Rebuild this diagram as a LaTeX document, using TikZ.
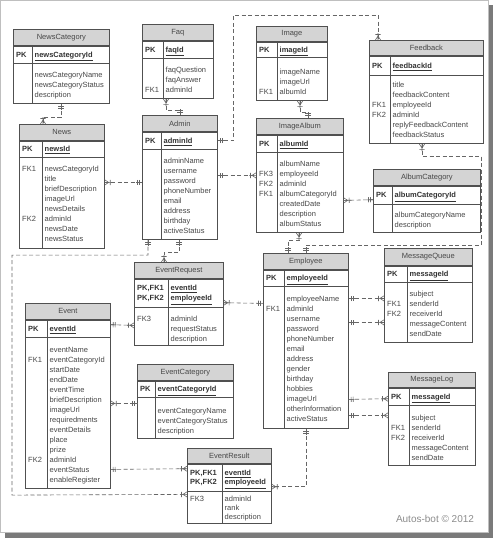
\documentclass[tikz,border=0pt]{standalone}
\usepackage{fontspec}
\setmainfont{Liberation Sans}
\usetikzlibrary{arrows.meta}
\definecolor{ergray}{HTML}{D4D4D4}
\definecolor{erline}{HTML}{505050}
\definecolor{ertext}{HTML}{474747}
\definecolor{relgray}{HTML}{666666}
\definecolor{shadowgray}{HTML}{7A7A7A}

% label column + field column of one table row block
\newcommand{\erows}[2]{\begin{tabular}[t]{@{}p{#1}@{}l@{}}#2\end{tabular}}

% crow's foot ends
\pgfdeclarearrow{
  name = erOne,
  setup code = {
    \pgfarrowssettipend{0pt}
    \pgfarrowssetlineend{0pt}
    \pgfarrowssetbackend{-6pt}
  },
  drawing code = {
    \pgfsetdash{}{0pt}
    \pgfpathmoveto{\pgfqpoint{0pt}{0pt}}
    \pgfpathlineto{\pgfqpoint{-6pt}{0pt}}
    \pgfpathmoveto{\pgfqpoint{-2.5pt}{2.6pt}}
    \pgfpathlineto{\pgfqpoint{-2.5pt}{-2.6pt}}
    \pgfpathmoveto{\pgfqpoint{-4.5pt}{2.6pt}}
    \pgfpathlineto{\pgfqpoint{-4.5pt}{-2.6pt}}
    \pgfusepathqstroke
  }
}
\pgfdeclarearrow{
  name = erMany,
  setup code = {
    \pgfarrowssettipend{0pt}
    \pgfarrowssetlineend{0pt}
    \pgfarrowssetbackend{-7pt}
  },
  drawing code = {
    \pgfsetdash{}{0pt}
    \pgfpathmoveto{\pgfqpoint{0pt}{0pt}}
    \pgfpathlineto{\pgfqpoint{-7pt}{0pt}}
    \pgfpathmoveto{\pgfqpoint{0pt}{2.6pt}}
    \pgfpathlineto{\pgfqpoint{-4pt}{0pt}}
    \pgfpathlineto{\pgfqpoint{0pt}{-2.6pt}}
    \pgfpathmoveto{\pgfqpoint{-5.5pt}{2.6pt}}
    \pgfpathlineto{\pgfqpoint{-5.5pt}{-2.6pt}}
    \pgfusepathqstroke
  }
}

\tikzset{
  etitle/.style={draw=erline, line width=0.7pt, fill=ergray, inner sep=0pt, anchor=north west, text=ertext, font=\fontsize{7.5}{10}\selectfont},
  ecell/.style={draw=erline, line width=0.7pt, fill=white, inner sep=0pt, anchor=north west},
  ediv/.style={draw=erline, line width=0.7pt},
  etext/.style={inner sep=0pt, anchor=north west, text=ertext, font=\fontsize{7.5}{10}\selectfont},
  etight/.style={etext, font=\fontsize{7.5}{9}\selectfont},
  ekey/.style={etext, text=black!80, font=\fontsize{7.5}{10}\selectfont\bfseries},
  ekeytight/.style={ekey, font=\fontsize{7.5}{9}\selectfont\bfseries},
  rel/.style={draw=relgray, line width=0.6pt, dash pattern=on 4pt off 2.5pt},
  credit/.style={inner sep=0pt, text=black!45, font=\fontsize{10}{12}\selectfont}
}

\begin{document}
\begin{tikzpicture}[x=1pt, y=-1pt]
\useasboundingbox (0,0) rectangle (493,538);
\fill[shadowgray] (5,5) rectangle (493,538);
\filldraw[fill=white, draw=black!25, line width=0.8pt] (0.5,0.5) rectangle (488,532);

% NewsCategory
\node[etitle, minimum width=96pt, minimum height=16pt] (newscat) at (13,29) {NewsCategory};
\node[ecell, minimum width=96pt, minimum height=17pt] (newscatK) at (newscat.south west) {};
\node[ecell, minimum width=96pt, minimum height=40pt] (newscatB) at (newscatK.south west) {};
\draw[ediv] ([xshift=19pt]newscatK.north west) -- ([xshift=19pt]newscatB.south west);
\node[ekey] (newscatId) at ([xshift=3pt,yshift=4.3pt]newscatK.west) {\erows{18.5pt}{PK & \underline{newsCategoryId}}};
\node[etext] (newscatF) at ([xshift=3pt,yshift=-6.5pt]newscatB.north west) {\erows{18.5pt}{& newsCategoryName\\ & newsCategoryStatus\\ & description}};

% Faq
\node[etitle, minimum width=71pt, minimum height=16pt] (faq) at (142,24) {Faq};
\node[ecell, minimum width=71pt, minimum height=17pt] (faqK) at (faq.south west) {};
\node[ecell, minimum width=71pt, minimum height=40pt] (faqB) at (faqK.south west) {};
\draw[ediv] ([xshift=21pt]faqK.north west) -- ([xshift=21pt]faqB.south west);
\node[ekey] (faqId) at ([xshift=3pt,yshift=4.3pt]faqK.west) {\erows{20.5pt}{PK & \underline{faqId}}};
\node[etext] (faqF) at ([xshift=3pt,yshift=-6.5pt]faqB.north west) {\erows{20.5pt}{& faqQuestion\\ & faqAnswer\\ FK1 & adminId}};

% Admin
\node[etitle, minimum width=75pt, minimum height=16pt] (admin) at (142,115) {Admin};
\node[ecell, minimum width=75pt, minimum height=17pt] (adminK) at (admin.south west) {};
\node[ecell, minimum width=75pt, minimum height=90pt] (adminB) at (adminK.south west) {};
\draw[ediv] ([xshift=19pt]adminK.north west) -- ([xshift=19pt]adminB.south west);
\node[ekey] (adminId) at ([xshift=3pt,yshift=4.3pt]adminK.west) {\erows{18.5pt}{PK & \underline{adminId}}};
\node[etext] (adminF) at ([xshift=3pt,yshift=-6.5pt]adminB.north west) {\erows{18.5pt}{& adminName\\ & username\\ & password\\ & phoneNumber\\ & email\\ & address\\ & birthday\\ & activeStatus}};

% News
\node[etitle, minimum width=85pt, minimum height=16pt] (news) at (19,124) {News};
\node[ecell, minimum width=85pt, minimum height=16pt] (newsK) at (news.south west) {};
\node[ecell, minimum width=85pt, minimum height=91pt] (newsB) at (newsK.south west) {};
\draw[ediv] ([xshift=23pt]newsK.north west) -- ([xshift=23pt]newsB.south west);
\node[ekey] (newsId) at ([xshift=3pt,yshift=4.3pt]newsK.west) {\erows{22.5pt}{PK & \underline{newsId}}};
\node[etext] (newsF) at ([xshift=3pt,yshift=-6.5pt]newsB.north west) {\erows{22.5pt}{FK1 & newsCategoryId\\ & title\\ & briefDescription\\ & imageUrl\\ & newsDetails\\ FK2 & adminId\\ & newsDate\\ & newsStatus}};

% Image
\node[etitle, minimum width=71pt, minimum height=15pt] (image) at (256,26) {Image};
\node[ecell, minimum width=71pt, minimum height=15pt] (imageK) at (image.south west) {};
\node[ecell, minimum width=71pt, minimum height=43pt] (imageB) at (imageK.south west) {};
\draw[ediv] ([xshift=21pt]imageK.north west) -- ([xshift=21pt]imageB.south west);
\node[ekey] (imageId) at ([xshift=3pt,yshift=4.3pt]imageK.west) {\erows{20.5pt}{PK & \underline{imageId}}};
\node[etext] (imageF) at ([xshift=3pt,yshift=-9.5pt]imageB.north west) {\erows{20.5pt}{& imageName\\ & imageUrl\\ FK1 & albumId}};

% Feedback
\node[etitle, minimum width=114pt, minimum height=15pt] (feedback) at (369,40) {Feedback};
\node[ecell, minimum width=114pt, minimum height=19pt] (feedbackK) at (feedback.south west) {};
\node[ecell, minimum width=114pt, minimum height=68pt] (feedbackB) at (feedbackK.south west) {};
\draw[ediv] ([xshift=21pt]feedbackK.north west) -- ([xshift=21pt]feedbackB.south west);
\node[ekey] (feedbackId) at ([xshift=3pt,yshift=4.3pt]feedbackK.west) {\erows{20.5pt}{PK & \underline{feedbackId}}};
\node[etext] (feedbackF) at ([xshift=3pt,yshift=-4.5pt]feedbackB.north west) {\erows{20.5pt}{& title\\ & feedbackContent\\ FK1 & employeeId\\ FK2 & adminId\\ & replyFeedbackContent\\ & feedbackStatus}};

% ImageAlbum
\node[etitle, minimum width=87pt, minimum height=16pt] (album) at (256,118) {ImageAlbum};
\node[ecell, minimum width=87pt, minimum height=17pt] (albumK) at (album.south west) {};
\node[ecell, minimum width=87pt, minimum height=80pt] (albumB) at (albumK.south west) {};
\draw[ediv] ([xshift=21pt]albumK.north west) -- ([xshift=21pt]albumB.south west);
\node[ekey] (albumId) at ([xshift=3pt,yshift=4.3pt]albumK.west) {\erows{20.5pt}{PK & \underline{albumId}}};
\node[etext] (albumF) at ([xshift=3pt,yshift=-6.5pt]albumB.north west) {\erows{20.5pt}{& albumName\\ FK3 & employeeId\\ FK2 & adminId\\ FK1 & albumCategoryId\\ & createdDate\\ & description\\ & albumStatus}};

% AlbumCategory
\node[etitle, minimum width=107pt, minimum height=16pt] (albumcat) at (373,169) {AlbumCategory};
\node[ecell, minimum width=107pt, minimum height=18pt] (albumcatK) at (albumcat.south west) {};
\node[ecell, minimum width=107pt, minimum height=28pt] (albumcatB) at (albumcatK.south west) {};
\draw[ediv] ([xshift=19pt]albumcatK.north west) -- ([xshift=19pt]albumcatB.south west);
\node[ekey] (albumcatId) at ([xshift=3pt,yshift=4.3pt]albumcatK.west) {\erows{18.5pt}{PK & \underline{albumCategoryId}}};
\node[etext] (albumcatF) at ([xshift=3pt,yshift=-5.5pt]albumcatB.north west) {\erows{18.5pt}{& albumCategoryName\\ & description}};

% EventRequest
\node[etitle, minimum width=89pt, minimum height=16pt] (evreq) at (134,262) {EventRequest};
\node[ecell, minimum width=89pt, minimum height=28pt] (evreqK) at (evreq.south west) {};
\node[ecell, minimum width=89pt, minimum height=38pt] (evreqB) at (evreqK.south west) {};
\draw[ediv] ([xshift=34pt]evreqK.north west) -- ([xshift=34pt]evreqB.south west);
\node[ekey] (evreqId) at ([xshift=3pt,yshift=9.3pt]evreqK.west) {\erows{33.5pt}{PK,FK1 & \underline{eventId}\\ PK,FK2 & \underline{employeeId}}};
\node[etext] (evreqF) at ([xshift=3pt,yshift=-6.5pt]evreqB.north west) {\erows{33.5pt}{FK3 & adminId\\ & requestStatus\\ & description}};

% Event
\node[etitle, minimum width=85pt, minimum height=16pt] (event) at (25,303) {Event};
\node[ecell, minimum width=85pt, minimum height=17pt] (eventK) at (event.south west) {};
\node[ecell, minimum width=85pt, minimum height=151pt] (eventB) at (eventK.south west) {};
\draw[ediv] ([xshift=22pt]eventK.north west) -- ([xshift=22pt]eventB.south west);
\node[ekey] (eventId) at ([xshift=3pt,yshift=4.3pt]eventK.west) {\erows{21.5pt}{PK & \underline{eventId}}};
\node[etext] (eventF) at ([xshift=3pt,yshift=-7.5pt]eventB.north west) {\erows{21.5pt}{& eventName\\ FK1 & eventCategoryId\\ & startDate\\ & endDate\\ & eventTime\\ & briefDescription\\ & imageUrl\\ & requiredments\\ & eventDetails\\ & place\\ & prize\\ FK2 & adminId\\ & eventStatus\\ & enableRegister}};

% EventCategory
\node[etitle, minimum width=96pt, minimum height=16pt] (evcat) at (137,364) {EventCategory};
\node[ecell, minimum width=96pt, minimum height=16pt] (evcatK) at (evcat.south west) {};
\node[ecell, minimum width=96pt, minimum height=41pt] (evcatB) at (evcatK.south west) {};
\draw[ediv] ([xshift=18pt]evcatK.north west) -- ([xshift=18pt]evcatB.south west);
\node[ekey] (evcatId) at ([xshift=3pt,yshift=4.3pt]evcatK.west) {\erows{17.5pt}{PK & \underline{eventCategoryId}}};
\node[etext] (evcatF) at ([xshift=3pt,yshift=-8.5pt]evcatB.north west) {\erows{17.5pt}{& eventCategoryName\\ & eventCategoryStatus\\ & description}};

% Employee
\node[etitle, minimum width=85pt, minimum height=16pt] (employee) at (263,253) {Employee};
\node[ecell, minimum width=85pt, minimum height=16pt] (employeeK) at (employee.south west) {};
\node[ecell, minimum width=85pt, minimum height=142pt] (employeeB) at (employeeK.south west) {};
\draw[ediv] ([xshift=21pt]employeeK.north west) -- ([xshift=21pt]employeeB.south west);
\node[ekey] (employeeId) at ([xshift=3pt,yshift=4.3pt]employeeK.west) {\erows{20.5pt}{PK & \underline{employeeId}}};
\node[etext] (employeeF) at ([xshift=3pt,yshift=-7.5pt]employeeB.north west) {\erows{20.5pt}{& employeeName\\ FK1 & adminId\\ & username\\ & password\\ & phoneNumber\\ & email\\ & address\\ & gender\\ & birthday\\ & hobbies\\ & imageUrl\\ & otherInformation\\ & activeStatus}};

% MessageQueue
\node[etitle, minimum width=88pt, minimum height=17pt] (msgq) at (384,248) {MessageQueue};
\node[ecell, minimum width=88pt, minimum height=16pt] (msgqK) at (msgq.south west) {};
\node[ecell, minimum width=88pt, minimum height=60pt] (msgqB) at (msgqK.south west) {};
\draw[ediv] ([xshift=23pt]msgqK.north west) -- ([xshift=23pt]msgqB.south west);
\node[ekey] (msgqId) at ([xshift=3pt,yshift=4.3pt]msgqK.west) {\erows{22.5pt}{PK & \underline{messageId}}};
\node[etext] (msgqF) at ([xshift=3pt,yshift=-6.5pt]msgqB.north west) {\erows{22.5pt}{& subject\\ FK1 & senderId\\ FK2 & receiverId\\ & messageContent\\ & sendDate}};

% MessageLog
\node[etitle, minimum width=87pt, minimum height=15pt] (msglog) at (388,372) {MessageLog};
\node[ecell, minimum width=87pt, minimum height=17pt] (msglogK) at (msglog.south west) {};
\node[ecell, minimum width=87pt, minimum height=60pt] (msglogB) at (msglogK.south west) {};
\draw[ediv] ([xshift=21pt]msglogK.north west) -- ([xshift=21pt]msglogB.south west);
\node[ekey] (msglogId) at ([xshift=3pt,yshift=4.3pt]msglogK.west) {\erows{20.5pt}{PK & \underline{messageId}}};
\node[etext] (msglogF) at ([xshift=3pt,yshift=-7.5pt]msglogB.north west) {\erows{20.5pt}{& subject\\ FK1 & senderId\\ FK2 & receiverId\\ & messageContent\\ & sendDate}};

% EventResult
\node[etitle, minimum width=84pt, minimum height=15pt] (evres) at (187,448) {EventResult};
\node[ecell, minimum width=84pt, minimum height=27pt] (evresK) at (evres.south west) {};
\node[ecell, minimum width=84pt, minimum height=32pt] (evresB) at (evresK.south west) {};
\draw[ediv] ([xshift=35pt]evresK.north west) -- ([xshift=35pt]evresB.south west);
\node[ekeytight] (evresId) at ([xshift=3pt,yshift=8.1pt]evresK.west) {\erows{34.5pt}{PK,FK1 & \underline{eventId}\\ PK,FK2 & \underline{employeeId}}};
\node[etight] (evresF) at ([xshift=3pt,yshift=-3.4pt]evresB.north west) {\erows{34.5pt}{FK3 & adminId\\ & rank\\ & description}};

% relationships
\draw[rel, erOne-erMany] ([xshift=48pt]newscatB.south west) -- ++(0,13) -| ([xshift=24pt]news.north west);
\draw[rel, erMany-erOne] ([xshift=24pt]faqB.south west) -- ++(0,11) -| ([xshift=38pt]admin.north west);
\draw[rel, erMany-erOne] ([xshift=44pt]imageB.south west) -- ++(0,11) -| ([xshift=52pt]album.north west);
\draw[rel, erOne-erMany] (adminK.east) -- ++(16,0) -- ++(0,-125.5) -| ([xshift=9pt]feedback.north west);
\draw[rel, erMany-erOne] ([xshift=53pt]feedbackB.south west) -- ++(0,12) -- ++(59,0) -- ++(0,89) -| ([xshift=43pt]employee.north west);
\draw[rel, erMany-erOne] ([xshift=43pt]albumB.south west) -- ++(0,7) -| ([xshift=25pt]employee.north west);
\draw[rel, erMany-erOne] ([yshift=-48pt]albumB.north east) -- ([yshift=-14pt]albumcatK.north west);
\draw[rel, erMany-erOne] ([yshift=-25pt]newsB.north east) -- ([yshift=-33pt]adminB.north west);
\draw[rel, erOne-erMany] ([yshift=-26pt]adminB.north east) -- ([yshift=-23pt]albumB.north west);
\draw[rel, erOne-erMany] ([xshift=37pt]adminB.south west) -- ++(0,12) -| ([xshift=30pt]evreq.north west);
\draw[rel, erOne-erMany] ([xshift=6pt]adminB.south west) -- ++(0,15) -- ++(-136,0) -- ++(0,240) -- ([yshift=-3pt]evresB.north west);
\draw[rel, erOne-erMany] ([yshift=-5pt]eventK.north east) -- ([yshift=-18pt]evreqB.north west);
\draw[rel, erMany-erOne] ([yshift=-24pt]evreqK.north east) -- ([yshift=-17pt]employeeB.north west);
\draw[rel, erMany-erOne] ([yshift=-66pt]eventB.north east) -- ([yshift=-6pt]evcatB.north west);
\draw[rel, erOne-erMany] ([yshift=-132pt]eventB.north east) -- ([yshift=-5pt]evresK.north west);
\draw[rel, erOne-erMany] ([xshift=43pt]employeeB.south west) |- ([yshift=-23pt]evresK.north east);
\draw[rel, erOne-erMany] ([yshift=-12pt]employeeB.north east) -- ([yshift=-16pt]msgqB.north west);
\draw[rel, erOne-erMany] ([yshift=-36pt]employeeB.north east) -- ([yshift=-40pt]msgqB.north west);
\draw[rel, erOne-erMany] ([yshift=-113pt]employeeB.north east) -- ([yshift=-11pt]msglogK.north west);
\draw[rel, erOne-erMany] ([yshift=-129pt]employeeB.north east) -- ([yshift=-10pt]msglogB.north west);

\node[credit] (credit) at (435,519) {Autos-bot © 2012};
\end{tikzpicture}
\end{document}
